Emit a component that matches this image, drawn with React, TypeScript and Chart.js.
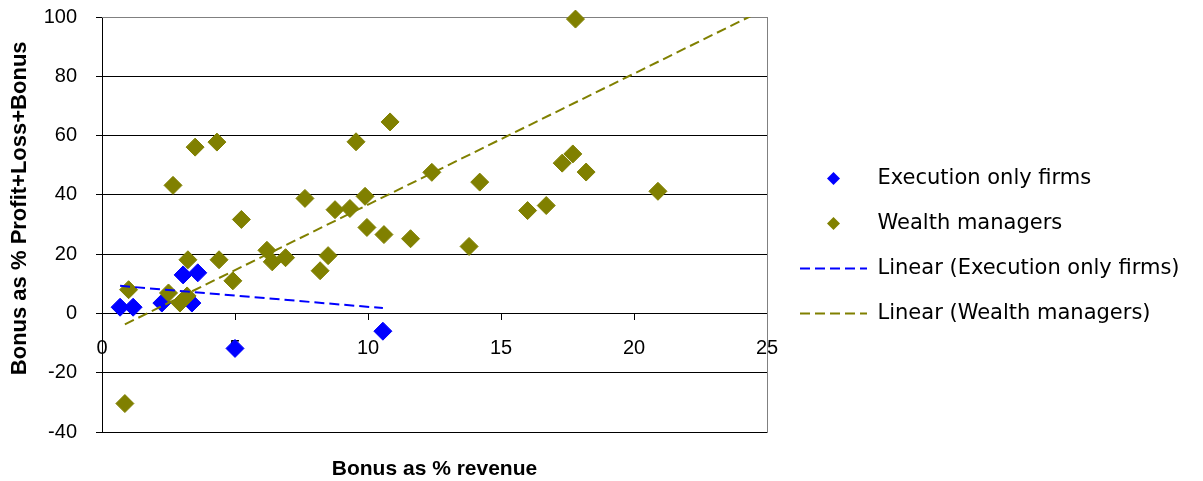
import React, { useEffect, useRef } from 'react';
import { Chart, registerables } from 'chart.js';

Chart.register(...registerables);

// ---- data ----
const seriesNames = [
  'Execution only firms',
  'Wealth managers',
  'Linear (Execution only firms)',
  'Linear (Wealth managers)',
];

const execX = [0.68, 1.17, 2.25, 3.05, 3.6, 3.38, 5.0, 10.56];
const execY = [2.1, 2.1, 3.5, 13.0, 13.7, 3.5, -11.8, -6.0];

const wealthX = [
  0.86, 1.0, 2.5, 2.93, 3.2, 2.67, 3.5, 4.32, 3.23, 4.4, 4.92, 5.24, 6.2, 6.4, 6.9, 7.63, 8.2, 8.5,
  8.76, 9.32, 9.55, 9.89, 9.96, 10.6, 10.83, 11.6, 12.4, 13.8, 14.2, 16.0, 16.7, 17.3, 17.7, 18.2,
  20.9, 17.8,
];
const wealthY = [
  -30.4, 8.0, 6.9, 3.5, 5.9, 43.2, 56.1, 57.8, 18.1, 18.1, 11.0, 31.7, 21.3, 17.4, 18.8, 38.8, 14.4,
  19.5, 35.0, 35.4, 57.9, 39.5, 29.0, 26.6, 64.6, 25.2, 47.6, 22.6, 44.3, 34.7, 36.4, 50.7, 53.8,
  47.7, 41.2, 99.3,
];

const execTrendX = [0.68, 10.56];
const execTrendY = [9.3, 1.8];
const wealthTrendX = [0.86, 25];
const wealthTrendY = [-3.7, 103];

const xMin = 0;
const xMax = 25;
const xStep = 5;
const yMin = -40;
const yMax = 100;
const yStep = 20;

const xTitle = 'Bonus as % revenue';
const yTitle = 'Bonus as % Profit+Loss+Bonus';

// ---- styles ----
const BLUE = '#0000FF';
const OLIVE = '#808000';
const TICK_FONT = { family: '"Liberation Sans", Arial, sans-serif', size: 20 };
const TITLE_FONT = { family: '"Liberation Sans", Arial, sans-serif', size: 21, weight: 'bold' as const, lineHeight: 1 };
const Y_TITLE_FONT = { family: '"Liberation Sans", Arial, sans-serif', size: 22, weight: 'bold' as const, lineHeight: 1 };
const LEGEND_FAMILY = '"DejaVu Sans", sans-serif';
const LEGEND_SIZE = 21;
const LEGEND_PAD = 24;
const LEGEND_BOX = 67;
const LEGEND_LEFT = 776;
const CANVAS_W = 1203;
const CANVAS_H = 481;

function makeDiamond(color: string, size: number) {
  const c = document.createElement('canvas');
  c.width = size;
  c.height = size;
  const g = c.getContext('2d')!;
  g.fillStyle = color;
  g.beginPath();
  g.moveTo(size / 2, 0);
  g.lineTo(size, size / 2);
  g.lineTo(size / 2, size);
  g.lineTo(0, size / 2);
  g.closePath();
  g.fill();
  return c;
}

const pts = (xs: number[], ys: number[]) => xs.map((x, i) => ({ x, y: ys[i] }));

export default function App() {
  const ref = useRef<HTMLCanvasElement>(null);

  useEffect(() => {
    const canvas = ref.current;
    if (!canvas) return;
    const legendMarkers: any[] = [makeDiamond(BLUE, 13), makeDiamond(OLIVE, 13)];

    // measure legend text so the legend box is exactly as wide as Chart.js will make it
    const mctx = document.createElement('canvas').getContext('2d')!;
    mctx.font = `${LEGEND_SIZE}px ${LEGEND_FAMILY}`;
    const maxText = Math.max(...seriesNames.map((s) => mctx.measureText(s).width));
    const legendW = LEGEND_PAD + LEGEND_BOX + LEGEND_SIZE / 2 + maxText + 10;
    const padRight = CANVAS_W - LEGEND_LEFT - legendW;

    const chart = new Chart(canvas, {
      type: 'scatter',
      data: {
        datasets: [
          {
            label: seriesNames[0],
            data: pts(execX, execY),
            backgroundColor: BLUE,
            borderColor: BLUE,
            borderWidth: 1,
            pointStyle: 'rectRot',
            pointRadius: 9,
            order: 4,
            clip: false,
          } as any,
          {
            label: seriesNames[1],
            data: pts(wealthX, wealthY),
            backgroundColor: OLIVE,
            borderColor: OLIVE,
            borderWidth: 1,
            pointStyle: 'rectRot',
            pointRadius: 9,
            order: 3,
            clip: false,
          } as any,
          {
            label: seriesNames[2],
            data: pts(execTrendX, execTrendY),
            showLine: true,
            pointRadius: 0,
            borderColor: BLUE,
            backgroundColor: BLUE,
            borderWidth: 2,
            borderDash: [10, 5],
            order: 2,
          } as any,
          {
            label: seriesNames[3],
            data: pts(wealthTrendX, wealthTrendY),
            showLine: true,
            pointRadius: 0,
            borderColor: OLIVE,
            backgroundColor: OLIVE,
            borderWidth: 2,
            borderDash: [10, 5],
            order: 1,
          } as any,
        ],
      },
      options: {
        responsive: false,
        animation: false,
        devicePixelRatio: 1,
        events: [],
        layout: { padding: { left: 0, right: padRight, top: 11, bottom: 0 } },
        scales: {
          x: {
            type: 'linear',
            min: xMin,
            max: xMax,
            position: { y: 0 } as any,
            ticks: { stepSize: xStep, padding: 17, color: '#000', font: TICK_FONT },
            grid: { drawOnChartArea: false, tickLength: 6, color: '#000', tickColor: '#000' },
            border: { display: true, color: '#000', width: 1 },
            afterFit: (s: any) => {
              s.height = 0;
            },
          },
          y: {
            type: 'linear',
            position: 'left',
            min: yMin,
            max: yMax,
            ticks: { stepSize: yStep, padding: 0, color: '#000', font: TICK_FONT },
            grid: {
              color: (c: any) => (c.tick && c.tick.value === yMax ? '#808080' : '#000'),
              tickColor: '#000',
              tickLength: 25,
              tickBorderDash: [0, 19, 6, 100],
            },
            border: { display: true, color: '#000', width: 1 },
            title: {
              display: true,
              text: yTitle + '    ',
              align: 'end',
              color: '#000',
              font: Y_TITLE_FONT,
              padding: { top: 9, bottom: 0 },
            },
            afterFit: (s: any) => {
              s.width = 102;
            },
          } as any,
          xTop: {
            type: 'linear',
            axis: 'x',
            position: 'top',
            min: xMin,
            max: xMax,
            grid: { display: false },
            ticks: { display: false, padding: 0 },
            border: { display: true, color: '#808080', width: 1 },
            afterFit: (s: any) => {
              s.height = 6;
            },
          } as any,
          yRight: {
            type: 'linear',
            axis: 'y',
            position: 'right',
            min: yMin,
            max: yMax,
            grid: { display: false },
            ticks: { display: false, padding: 0 },
            border: { display: true, color: '#808080', width: 1 },
            afterFit: (s: any) => {
              s.width = 9;
            },
          } as any,
        },
        plugins: {
          tooltip: { enabled: false },
          title: {
            display: true,
            text: xTitle,
            position: 'bottom',
            fullSize: false,
            color: '#000',
            font: TITLE_FONT,
            padding: { top: 27, bottom: 1 },
          },
          legend: {
            position: 'right',
            align: 'center',
            maxWidth: legendW + 1,
            labels: {
              usePointStyle: true,
              pointStyleWidth: LEGEND_BOX,
              padding: LEGEND_PAD,
              color: '#000',
              font: { family: LEGEND_FAMILY, size: LEGEND_SIZE },
              generateLabels: (ch: any) => {
                const base = (Chart.defaults.plugins.legend.labels as any).generateLabels(ch);
                base.sort((a: any, b: any) => a.datasetIndex - b.datasetIndex);
                return base.map((it: any) => {
                  const ds: any = ch.data.datasets[it.datasetIndex];
                  if (ds.showLine) {
                    return {
                      ...it,
                      pointStyle: 'line',
                      strokeStyle: ds.borderColor,
                      fillStyle: ds.borderColor,
                      lineWidth: 2,
                      lineDash: ds.borderDash,
                    };
                  }
                  return { ...it, pointStyle: legendMarkers[it.datasetIndex], lineWidth: 0 };
                });
              },
            },
          } as any,
        },
      },
    });

    return () => chart.destroy();
  }, []);

  return (
    <div style={{ position: 'fixed', left: 0, top: 0, width: CANVAS_W, height: CANVAS_H, background: '#fff' }}>
      <canvas ref={ref} width={CANVAS_W} height={CANVAS_H} style={{ display: 'block' }} />
    </div>
  );
}
